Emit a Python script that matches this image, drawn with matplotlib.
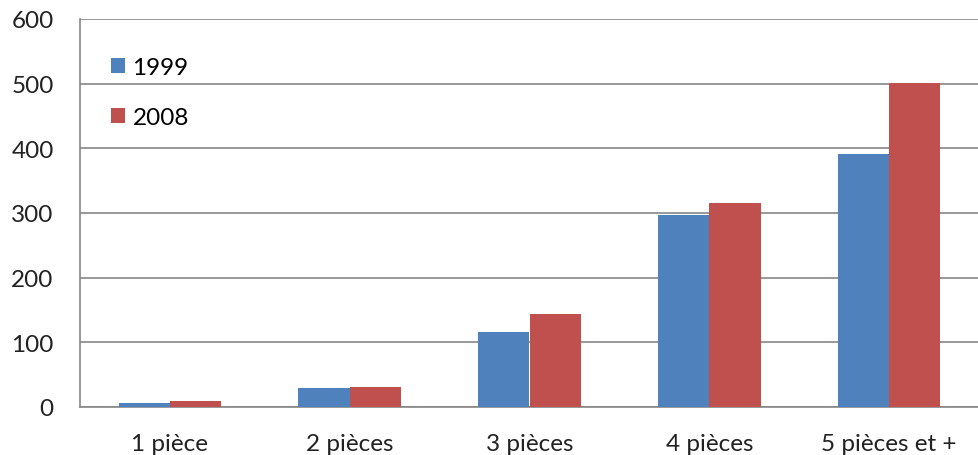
import matplotlib.pyplot as plt
import numpy as np

categories = ['1 pièce', '2 pièces', '3 pièces', '4 pièces', '5 pièces et +']
v1999 = [6, 29, 116, 297, 392]
v2008 = [10, 31, 144, 316, 501]

plt.rcParams['font.family'] = ['Lato', 'DejaVu Sans']

fig = plt.figure(figsize=(9.79, 4.56), dpi=100)
ax = fig.add_axes([80 / 979, 48 / 456, 899 / 979, 388 / 456])

x = np.arange(len(categories))
w = 0.285
ax.bar(x - w / 2, v1999, w, color='#4F81BD', label='1999', zorder=3)
ax.bar(x + w / 2, v2008, w, color='#C0504D', label='2008', zorder=3)

ax.set_xlim(-0.5, len(categories) - 0.5)
ax.set_ylim(0, 600)
ax.set_yticks(range(0, 601, 100))
ax.set_xticks(x)
ax.set_xticklabels(categories)
ax.grid(axis='y', color='#868686', linewidth=1.2, zorder=0)
ax.tick_params(axis='both', length=0, labelsize=17.5, colors='#222222')
ax.tick_params(axis='y', pad=19)
ax.tick_params(axis='x', pad=19)
for s in ['top', 'right']:
    ax.spines[s].set_visible(False)
ax.spines['left'].set_color('#868686')
ax.spines['bottom'].set_color('#868686')
ax.spines['left'].set_linewidth(1.2)
ax.spines['bottom'].set_linewidth(1.2)

ax.legend(loc='upper left', bbox_to_anchor=(31 / 899, 0.902), frameon=False, fontsize=17.5,
          borderpad=0, borderaxespad=0,
          handlelength=0.58, handleheight=0.58, handletextpad=0.3, labelspacing=1.2)

fig.savefig('out.png', dpi=100)
